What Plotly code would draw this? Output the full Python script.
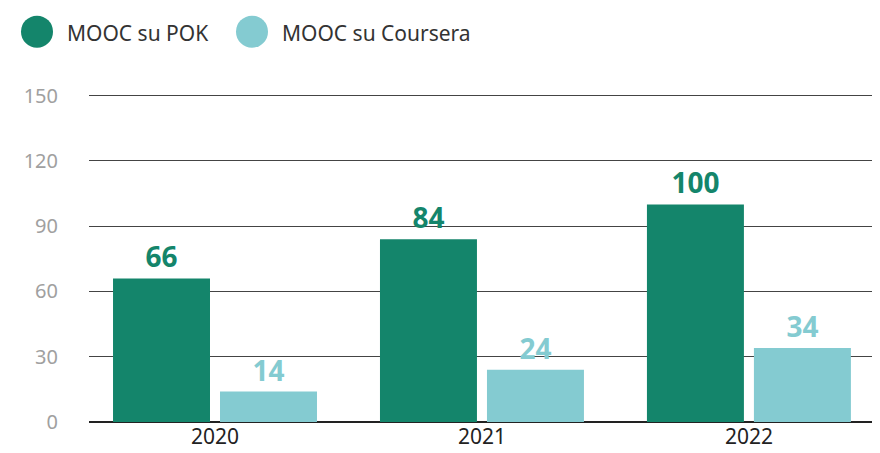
import plotly.graph_objects as go

years = ["2020", "2021", "2022"]
pok = [66, 84, 100]
coursera = [14, 24, 34]
series_names = ["MOOC su POK", "MOOC su Coursera"]
colors = ["#14856B", "#84CBD1"]
yticks = [0, 30, 60, 90, 120, 150]

# the page body adds an 8px offset, compensate
OFF = 8
W, H = 880, 453
YMAX = 154
extra = (YMAX - 150) * 326 / 150
L, R, T, B = 89 - OFF, OFF, 96 - OFF - extra, 31 + OFF
pw, ph = W - L - R, H - T - B

def px(x):
    return (x - OFF - L) / pw

def py(y):
    return (H - B - (y - OFF)) / ph

fig = go.Figure()
for name, vals, col in zip(series_names, [pok, coursera], colors):
    fig.add_trace(go.Bar(
        x=years, y=vals, name=name, marker_color=col, marker_line_width=0,
        text=[str(v) for v in vals], textposition="outside",
        textfont=dict(size=28, color=col, family="Noto Sans", weight="bold"),
        cliponaxis=False, showlegend=False,
    ))

# legend drawn manually
legend_pos = [(37, 65), (252, 280)]
for (cx, tx), name, col in zip(legend_pos, series_names, colors):
    r = 16
    fig.add_shape(type="circle", xref="paper", yref="paper",
                  x0=px(cx - r), x1=px(cx + r), y0=py(32 + r), y1=py(32 - r),
                  fillcolor=col, line_width=0)
    fig.add_annotation(xref="paper", yref="paper", x=px(tx), y=py(33),
                       xanchor="left", yanchor="middle", showarrow=False,
                       text=name, font=dict(size=21, color="#333333", family="Noto Sans"))

fig.update_layout(
    width=W, height=H,
    margin=dict(l=L, r=R, t=T, b=B),
    paper_bgcolor="white", plot_bgcolor="white",
    barmode="group", bargap=0.1985, bargroupgap=0.0935,
    font=dict(family="Noto Sans"),
)
fig.update_xaxes(range=[-0.472, 2.491], showgrid=False, showline=False, ticks="",
                 tickfont=dict(size=21, color="#222222"))
fig.update_yaxes(range=[0, YMAX], tickvals=yticks, showgrid=True, gridcolor="#444444",
                 gridwidth=1, zeroline=True, zerolinecolor="#222222", zerolinewidth=1.5,
                 tickfont=dict(size=20, color="#a0a0a0"), ticklabelstandoff=30)

fig.write_html("out.html")
